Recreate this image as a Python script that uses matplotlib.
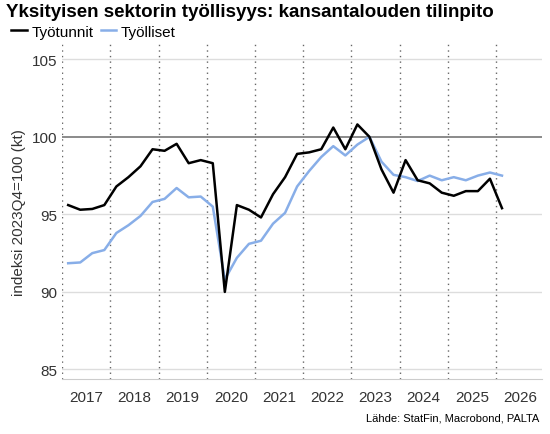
import numpy as np
import matplotlib.pyplot as plt

plt.rcParams['font.family'] = ['Liberation Sans', 'DejaVu Sans']

# quarterly, 2017Q1 .. 2026Q1
tyotunnit = [95.6, 95.3, 95.35, 95.6, 96.8, 97.4, 98.1, 99.2, 99.1, 99.55, 98.3, 98.5, 98.3,
             90.0, 95.6, 95.3, 94.8, 96.3, 97.4, 98.9, 99.0, 99.2, 100.6, 99.2, 100.8, 100.0,
             97.9, 96.4, 98.5, 97.2, 97.0, 96.4, 96.2, 96.5, 96.5, 97.3, 95.4]
tyolliset = [91.85, 91.9, 92.5, 92.7, 93.8, 94.3, 94.9, 95.8, 96.0, 96.7, 96.1, 96.15, 95.5,
             90.8, 92.2, 93.1, 93.3, 94.4, 95.1, 96.8, 97.8, 98.7, 99.4, 98.8, 99.5, 100.0,
             98.4, 97.55, 97.4, 97.15, 97.5, 97.2, 97.4, 97.2, 97.5, 97.7, 97.5]
years = list(range(2017, 2027))

x = 2017 + 0.125 + 0.25 * np.arange(len(tyotunnit))

fig, ax = plt.subplots(figsize=(5.5, 4.35), dpi=100)
fig.subplots_adjust(left=0.113, right=0.985, top=0.897, bottom=0.127)

for yv in [85, 90, 95, 105]:
    ax.axhline(yv, color='#dddddd', lw=1, zorder=0)
ax.axhline(100, color='#777777', lw=1.2, zorder=1)
for yr in years:
    ax.axvline(yr, color='#666666', lw=1, ls=(0, (1, 3)), zorder=0)

ax.plot(x, tyotunnit, color='black', lw=1.8, label='Työtunnit', zorder=3)
ax.plot(x, tyolliset, color='#88aee8', lw=1.8, label='Työlliset', zorder=2)

ax.set_xlim(2017.0, 2026.95)
ax.set_ylim(84.4, 106)
ax.set_yticks([85, 90, 95, 100, 105])
ax.set_xticks([y + 0.5 for y in years])
ax.set_xticklabels([str(y) for y in years])
ax.tick_params(axis='both', labelsize=11, colors='#333333', length=0)
ax.tick_params(axis='x', pad=8)
ax.set_ylabel('indeksi 2023Q4=100 (kt)', fontsize=11, color='#333333')
for s in ['top', 'right', 'left']:
    ax.spines[s].set_visible(False)
ax.spines['bottom'].set_color('#cccccc')

fig.text(0.01, 0.99, 'Yksityisen sektorin työllisyys: kansantalouden tilinpito',
         fontsize=13.5, fontweight='bold', va='top')
ax.legend(loc='upper left', bbox_to_anchor=(-0.125, 1.085), ncol=2, frameon=False,
          fontsize=11, handlelength=1.0, handletextpad=0.3, columnspacing=0.5,
          borderpad=0.1)
fig.text(0.98, 0.03, 'Lähde: StatFin, Macrobond, PALTA', fontsize=8, ha='right')

fig.savefig('out.png')
